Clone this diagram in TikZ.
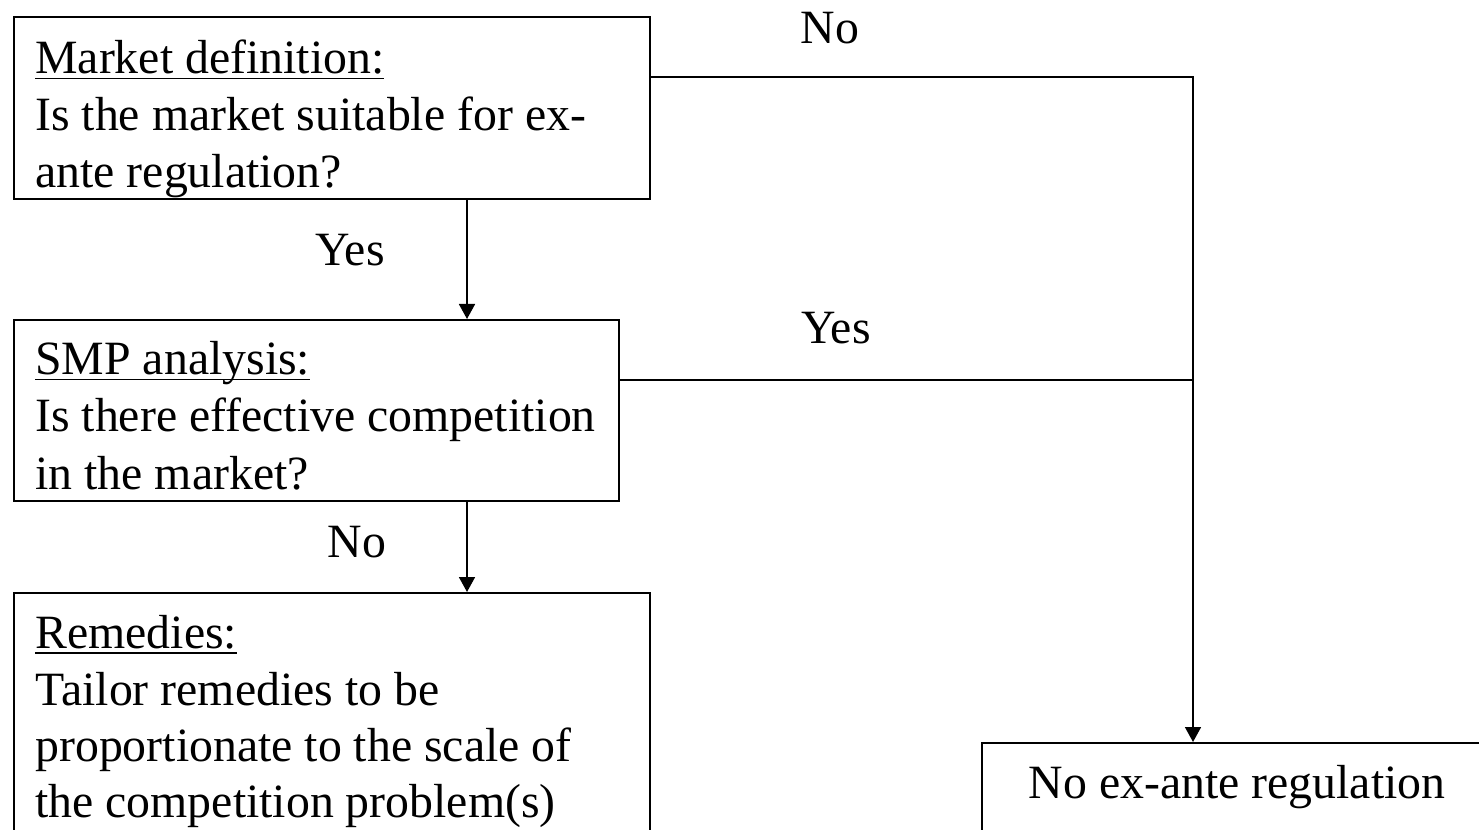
\documentclass[tikz,border=0pt]{standalone}
\usepackage{fontspec}
\setmainfont{Liberation Serif}
\usetikzlibrary{arrows.meta}

% underline drawn at a fixed depth below the baseline
\newcommand\headul[1]{\setbox0\hbox{#1}\rlap{\rule[-0.11cm]{\wd0}{0.035cm}}\box0}

\tikzset{
  box/.style={draw, line width=0.034cm, rectangle, inner sep=0pt, anchor=north west},
  txt/.style={inner sep=0pt, anchor=base west, font=\fontsize{27.2pt}{32pt}\selectfont},
  lbl/.style={inner sep=0pt, anchor=base, font=\fontsize{27.2pt}{32pt}\selectfont},
  link/.style={line width=0.034cm},
  arr/.style={link, -{Triangle[length=0.3cm, width=0.32cm]}}
}

\begin{document}
\begin{tikzpicture}[x=0.02cm, y=-0.02cm]
  \useasboundingbox (0,0) rectangle (1479,830);
  \clip (0,0) rectangle (1479,830);

  % boxes
  \node[box, minimum width=636*0.02cm, minimum height=182*0.02cm] (b1) at (13,16) {};
  \node[box, minimum width=605*0.02cm, minimum height=181*0.02cm] (b2) at (13,319) {};
  \node[box, minimum width=636*0.02cm, minimum height=260*0.02cm] (b3) at (13,592) {};
  \node[box, minimum width=540*0.02cm, minimum height=120*0.02cm] (b4) at (981,742) {};

  % box texts
  \node[txt] (t11) at (35,74)  {\headul{Market definition:}};
  \node[txt] (t12) at (35,131) {Is the market suitable for ex-};
  \node[txt] (t13) at (35,188) {ante regulation?};

  \node[txt] (t21) at (35,375) {\headul{SMP analysis:}};
  \node[txt] (t22) at (35,432) {Is there effective competition};
  \node[txt] (t23) at (35,489) {in the market?};

  \node[txt] (t31) at (35,648) {\headul{Remedies:}};
  \node[txt] (t32) at (35,705) {Tailor remedies to be};
  \node[txt] (t33) at (35,761) {proportionate to the scale of};
  \node[txt] (t34) at (35,817) {the competition problem(s)};

  \node[lbl] (t41) at (1237,798) {No ex-ante regulation};

  % routing points
  \coordinate (cx) at (467,0);
  \coordinate (kNo) at (1193,77);
  \coordinate (kYes) at (1193,380);

  % connectors
  \draw[arr] (b1.south -| cx) -- (b2.north -| cx);
  \draw[arr] (b2.south -| cx) -- (b3.north -| cx);
  \draw[arr] (kNo -| b1.east) -- (kNo) -- (b4.north -| kNo);
  \draw[link] (kYes -| b2.east) -- (kYes);

  % branch labels
  \node[lbl] (lNo1)  at (830,44)  {No};
  \node[lbl] (lYes1) at (350,266) {Yes};
  \node[lbl] (lYes2) at (836,344) {Yes};
  \node[lbl] (lNo2)  at (357,557) {No};
\end{tikzpicture}
\end{document}
